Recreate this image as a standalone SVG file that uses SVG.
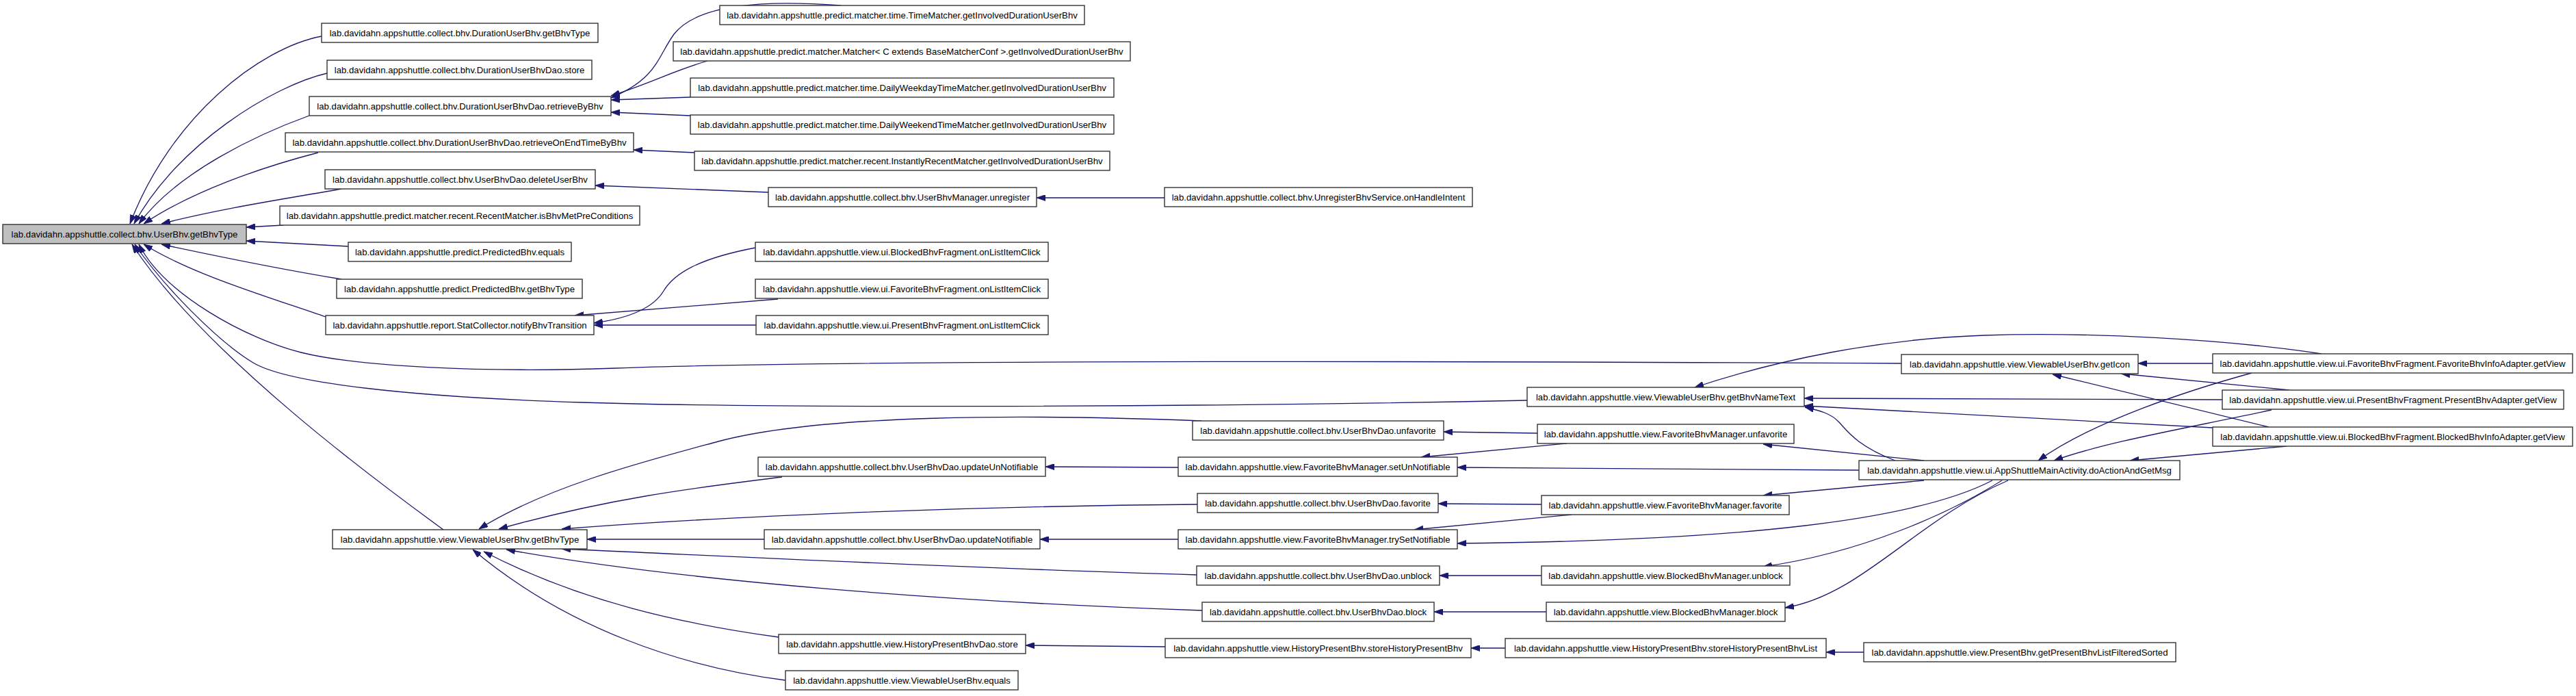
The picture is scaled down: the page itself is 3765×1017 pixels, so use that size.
<svg xmlns="http://www.w3.org/2000/svg" width="3765" height="1017" viewBox="0 0 3765 1017">
<style>
.node rect { fill: #ffffff; stroke: #333333; stroke-width: 1.4; }
#n_main rect { fill: #bfbfbf; }
.node text { font-family: "Liberation Sans", Arial, Helvetica, sans-serif; font-size: 13.2px; text-anchor: middle; fill: #000000; }
.edges path { fill: none; stroke: #191970; stroke-width: 1.3; marker-end: url(#arr); }
</style>
<defs>
<marker id="arr" markerUnits="userSpaceOnUse" markerWidth="13" markerHeight="9" viewBox="0 0 13 9" refX="13" refY="4.5" orient="auto">
<path d="M0,0 L13,4.5 L0,9 z" fill="#191970" stroke="#191970" stroke-width="0.8"/>
</marker>
</defs>
<rect x="0" y="0" width="3765" height="1017" fill="#ffffff"/>
<g class="edges">
<path d="M470,53 C380,70 250,170 190,327"/>
<path d="M478,107 C400,125 260,210 196,327"/>
<path d="M452,169 C380,195 260,250 203,327"/>
<path d="M465,223 C380,245 280,280 210,327"/>
<path d="M499,276 C420,290 320,305 236,327"/>
<path d="M414,329 L360,332"/>
<path d="M509,360 L360,352"/>
<path d="M499,408 C420,395 320,375 236,357"/>
<path d="M476,463 C380,430 280,400 210,357"/>
<path d="M648,774 C560,710 300,520 193,357"/>
<path d="M2779,531 C2000,527 1200,527 900,538 C700,545 520,535 440,515 C360,495 240,430 203,357"/>
<path d="M2232,585 C1700,596 1100,596 850,588 C600,580 420,560 370,530 C320,500 240,420 197,357"/>
<path d="M1756,615 C1500,605 1200,605 1050,645 C950,672 800,710 700,773"/>
<path d="M1143,697 C1040,710 900,725 729,773"/>
<path d="M1750,737 C1400,740 1050,755 821,773"/>
<path d="M1117,788 L858,788"/>
<path d="M1749,840 C1400,830 1050,812 821,802"/>
<path d="M1757,892 C1400,880 1000,850 740,803"/>
<path d="M1138,931 C1000,912 850,880 707,806"/>
<path d="M1148,994 C1000,975 830,920 691,803"/>
<path d="M1229,8 C1120,0 1020,5 985,50 C960,85 960,115 893,143"/>
<path d="M1034,89 C985,103 955,120 893,140"/>
<path d="M1009,142 L893,146"/>
<path d="M1009,169 L893,164"/>
<path d="M1015,223 L926,219"/>
<path d="M1123,281 L870,271"/>
<path d="M1702,289 L1515,289"/>
<path d="M1104,362 C1020,378 985,400 970,425 C955,450 920,465 868,472"/>
<path d="M1137,437 L840,461"/>
<path d="M1105,475 L868,475"/>
<path d="M2247,633 L2110,631"/>
<path d="M2290,648 L2077,668"/>
<path d="M2253,737 L2102,736"/>
<path d="M2297,752 L2067,774"/>
<path d="M1722,683 L1528,682"/>
<path d="M1722,788 L1520,788"/>
<path d="M2253,841 L2104,841"/>
<path d="M2260,894 L2096,894"/>
<path d="M1703,945 L1499,943"/>
<path d="M2200,947 L2150,947"/>
<path d="M2724,953 L2669,953"/>
<path d="M2812,673 L2577,649"/>
<path d="M2717,687 L2130,683"/>
<path d="M2812,702 L2577,724"/>
<path d="M2912,702 C2800,760 2550,790 2130,794"/>
<path d="M2926,702 C2850,750 2720,808 2577,828"/>
<path d="M2935,702 C2800,760 2720,870 2609,888"/>
<path d="M2770,673 C2715,652 2700,630 2688,617 C2676,604 2660,600 2638,595"/>
<path d="M3234,531 L3125,531"/>
<path d="M3346,570 L3100,546"/>
<path d="M3316,624 L3000,547"/>
<path d="M3393,517 C3250,495 3050,485 2900,490 C2750,495 2600,525 2477,566"/>
<path d="M3248,584 L2637,582"/>
<path d="M3234,625 L2637,593"/>
<path d="M3291,545 C3200,570 3060,615 2979,673"/>
<path d="M3320,599 C3200,625 3080,645 3002,673"/>
<path d="M3342,652 L3113,673"/>
</g>
<g id="n_main" class="node"><rect x="4" y="328" width="356" height="28"/><text x="182" y="346.5">lab.davidahn.appshuttle.collect.bhv.UserBhv.getBhvType</text></g>
<g id="n_dugt" class="node"><rect x="470" y="34" width="404" height="28"/><text x="672" y="52.5">lab.davidahn.appshuttle.collect.bhv.DurationUserBhv.getBhvType</text></g>
<g id="n_duds" class="node"><rect x="478" y="88" width="387" height="28"/><text x="671.5" y="106.5">lab.davidahn.appshuttle.collect.bhv.DurationUserBhvDao.store</text></g>
<g id="n_rbb" class="node"><rect x="452" y="141" width="441" height="28"/><text x="672.5" y="159.5">lab.davidahn.appshuttle.collect.bhv.DurationUserBhvDao.retrieveByBhv</text></g>
<g id="n_roe" class="node"><rect x="417" y="194" width="509" height="28"/><text x="671.5" y="212.5">lab.davidahn.appshuttle.collect.bhv.DurationUserBhvDao.retrieveOnEndTimeByBhv</text></g>
<g id="n_del" class="node"><rect x="475" y="248" width="395" height="28"/><text x="672.5" y="266.5">lab.davidahn.appshuttle.collect.bhv.UserBhvDao.deleteUserBhv</text></g>
<g id="n_rm" class="node"><rect x="409" y="301" width="526" height="28"/><text x="672" y="319.5">lab.davidahn.appshuttle.predict.matcher.recent.RecentMatcher.isBhvMetPreConditions</text></g>
<g id="n_pbe" class="node"><rect x="509" y="354" width="326" height="28"/><text x="672" y="372.5">lab.davidahn.appshuttle.predict.PredictedBhv.equals</text></g>
<g id="n_pbt" class="node"><rect x="492" y="408" width="359" height="28"/><text x="671.5" y="426.5">lab.davidahn.appshuttle.predict.PredictedBhv.getBhvType</text></g>
<g id="n_sc" class="node"><rect x="476" y="461" width="392" height="28"/><text x="672" y="479.5">lab.davidahn.appshuttle.report.StatCollector.notifyBhvTransition</text></g>
<g id="n_vgt" class="node"><rect x="486" y="774" width="372" height="28"/><text x="672" y="792.5">lab.davidahn.appshuttle.view.ViewableUserBhv.getBhvType</text></g>
<g id="n_tm" class="node"><rect x="1052" y="8" width="533" height="28"/><text x="1318.5" y="26.5">lab.davidahn.appshuttle.predict.matcher.time.TimeMatcher.getInvolvedDurationUserBhv</text></g>
<g id="n_m" class="node"><rect x="984" y="61" width="668" height="28"/><text x="1318" y="79.5">lab.davidahn.appshuttle.predict.matcher.Matcher&lt; C extends BaseMatcherConf &gt;.getInvolvedDurationUserBhv</text></g>
<g id="n_dwd" class="node"><rect x="1009" y="114" width="619" height="28"/><text x="1318.5" y="132.5">lab.davidahn.appshuttle.predict.matcher.time.DailyWeekdayTimeMatcher.getInvolvedDurationUserBhv</text></g>
<g id="n_dwe" class="node"><rect x="1009" y="168" width="619" height="28"/><text x="1318.5" y="186.5">lab.davidahn.appshuttle.predict.matcher.time.DailyWeekendTimeMatcher.getInvolvedDurationUserBhv</text></g>
<g id="n_irm" class="node"><rect x="1015" y="221" width="607" height="28"/><text x="1318.5" y="239.5">lab.davidahn.appshuttle.predict.matcher.recent.InstantlyRecentMatcher.getInvolvedDurationUserBhv</text></g>
<g id="n_unreg" class="node"><rect x="1123" y="274" width="392" height="28"/><text x="1319" y="292.5">lab.davidahn.appshuttle.collect.bhv.UserBhvManager.unregister</text></g>
<g id="n_bfl" class="node"><rect x="1104" y="354" width="428" height="28"/><text x="1318" y="372.5">lab.davidahn.appshuttle.view.ui.BlockedBhvFragment.onListItemClick</text></g>
<g id="n_ffl" class="node"><rect x="1104" y="408" width="428" height="28"/><text x="1318" y="426.5">lab.davidahn.appshuttle.view.ui.FavoriteBhvFragment.onListItemClick</text></g>
<g id="n_pfl" class="node"><rect x="1105" y="461" width="427" height="28"/><text x="1318.5" y="479.5">lab.davidahn.appshuttle.view.ui.PresentBhvFragment.onListItemClick</text></g>
<g id="n_uun" class="node"><rect x="1108" y="668" width="420" height="28"/><text x="1318" y="686.5">lab.davidahn.appshuttle.collect.bhv.UserBhvDao.updateUnNotifiable</text></g>
<g id="n_un" class="node"><rect x="1117" y="774" width="403" height="28"/><text x="1318.5" y="792.5">lab.davidahn.appshuttle.collect.bhv.UserBhvDao.updateNotifiable</text></g>
<g id="n_hpds" class="node"><rect x="1138" y="927" width="361" height="28"/><text x="1318.5" y="945.5">lab.davidahn.appshuttle.view.HistoryPresentBhvDao.store</text></g>
<g id="n_veq" class="node"><rect x="1148" y="980" width="340" height="28"/><text x="1318" y="998.5">lab.davidahn.appshuttle.view.ViewableUserBhv.equals</text></g>
<g id="n_ubs" class="node"><rect x="1702" y="274" width="450" height="28"/><text x="1927" y="292.5">lab.davidahn.appshuttle.collect.bhv.UnregisterBhvService.onHandleIntent</text></g>
<g id="n_udunf" class="node"><rect x="1743" y="615" width="367" height="28"/><text x="1926.5" y="633.5">lab.davidahn.appshuttle.collect.bhv.UserBhvDao.unfavorite</text></g>
<g id="n_fmsun" class="node"><rect x="1722" y="668" width="408" height="28"/><text x="1926" y="686.5">lab.davidahn.appshuttle.view.FavoriteBhvManager.setUnNotifiable</text></g>
<g id="n_udfav" class="node"><rect x="1750" y="721" width="352" height="28"/><text x="1926" y="739.5">lab.davidahn.appshuttle.collect.bhv.UserBhvDao.favorite</text></g>
<g id="n_fmtsn" class="node"><rect x="1722" y="774" width="408" height="28"/><text x="1926" y="792.5">lab.davidahn.appshuttle.view.FavoriteBhvManager.trySetNotifiable</text></g>
<g id="n_udunb" class="node"><rect x="1749" y="827" width="355" height="28"/><text x="1926.5" y="845.5">lab.davidahn.appshuttle.collect.bhv.UserBhvDao.unblock</text></g>
<g id="n_udblk" class="node"><rect x="1757" y="880" width="339" height="28"/><text x="1926.5" y="898.5">lab.davidahn.appshuttle.collect.bhv.UserBhvDao.block</text></g>
<g id="n_hpsh" class="node"><rect x="1703" y="933" width="447" height="28"/><text x="1926.5" y="951.5">lab.davidahn.appshuttle.view.HistoryPresentBhv.storeHistoryPresentBhv</text></g>
<g id="n_gnt" class="node"><rect x="2232" y="566" width="405" height="28"/><text x="2434.5" y="584.5">lab.davidahn.appshuttle.view.ViewableUserBhv.getBhvNameText</text></g>
<g id="n_fmunf" class="node"><rect x="2247" y="620" width="375" height="28"/><text x="2434.5" y="638.5">lab.davidahn.appshuttle.view.FavoriteBhvManager.unfavorite</text></g>
<g id="n_fmfav" class="node"><rect x="2253" y="724" width="362" height="28"/><text x="2434" y="742.5">lab.davidahn.appshuttle.view.FavoriteBhvManager.favorite</text></g>
<g id="n_bmunb" class="node"><rect x="2253" y="827" width="363" height="28"/><text x="2434.5" y="845.5">lab.davidahn.appshuttle.view.BlockedBhvManager.unblock</text></g>
<g id="n_bmblk" class="node"><rect x="2260" y="880" width="349" height="28"/><text x="2434.5" y="898.5">lab.davidahn.appshuttle.view.BlockedBhvManager.block</text></g>
<g id="n_hpshl" class="node"><rect x="2200" y="933" width="469" height="28"/><text x="2434.5" y="951.5">lab.davidahn.appshuttle.view.HistoryPresentBhv.storeHistoryPresentBhvList</text></g>
<g id="n_icon" class="node"><rect x="2779" y="518" width="346" height="28"/><text x="2952" y="536.5">lab.davidahn.appshuttle.view.ViewableUserBhv.getIcon</text></g>
<g id="n_act" class="node"><rect x="2717" y="673" width="469" height="28"/><text x="2951.5" y="691.5">lab.davidahn.appshuttle.view.ui.AppShuttleMainActivity.doActionAndGetMsg</text></g>
<g id="n_pbl" class="node"><rect x="2724" y="939" width="456" height="28"/><text x="2952" y="957.5">lab.davidahn.appshuttle.view.PresentBhv.getPresentBhvListFilteredSorted</text></g>
<g id="n_fad" class="node"><rect x="3234" y="517" width="526" height="28"/><text x="3497" y="535.5">lab.davidahn.appshuttle.view.ui.FavoriteBhvFragment.FavoriteBhvInfoAdapter.getView</text></g>
<g id="n_pad" class="node"><rect x="3248" y="570" width="499" height="28"/><text x="3497.5" y="588.5">lab.davidahn.appshuttle.view.ui.PresentBhvFragment.PresentBhvAdapter.getView</text></g>
<g id="n_bad" class="node"><rect x="3234" y="624" width="526" height="28"/><text x="3497" y="642.5">lab.davidahn.appshuttle.view.ui.BlockedBhvFragment.BlockedBhvInfoAdapter.getView</text></g>
</svg>
